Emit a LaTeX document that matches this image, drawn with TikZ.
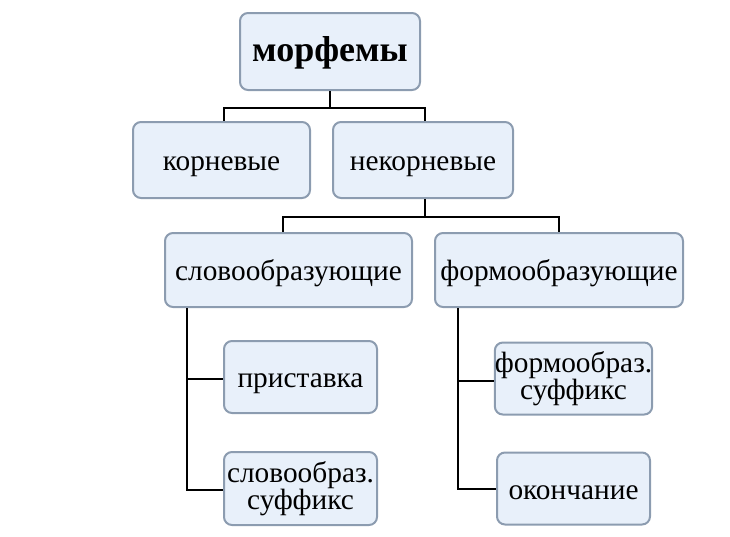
\documentclass[tikz,border=0pt]{standalone}
\usepackage{fontspec}
\setmainfont{Liberation Serif}
\usepackage{xcolor}
\definecolor{colorBoxFill}{HTML}{E8F0FA}
\definecolor{colorBoxBorder}{HTML}{8C9CB0}
\usepackage{tikz}
\usetikzlibrary{positioning}
\tikzset{morpheme/.style={draw=colorBoxBorder, fill=colorBoxFill, line width=1.5pt, rounded corners=6pt, align=center, inner sep=0pt, font=\fontsize{22}{20}\selectfont},
  oneline/.style={text height=16pt, text depth=0pt}}

\begin{document}
\begin{tikzpicture}[x=0.75pt, y=-0.75pt, line width=1.5pt]
\useasboundingbox (0,0) rectangle (730,536);
\node[morpheme, minimum width=135pt, minimum height=57.75pt, text height=15pt, text depth=0pt, font=\bfseries\fontsize{27}{27}\selectfont] (morph) at (330,51.5) {морфемы};
\node[morpheme, oneline, minimum width=132.75pt, minimum height=57pt] (kor) at (221.5,160) {корневые};
\node[morpheme, oneline, minimum width=135pt, minimum height=57pt] (nekor) at (423,160) {некорневые};
\node[morpheme, oneline, minimum width=185.25pt, minimum height=55.5pt] (slovo) at (288.5,270) {словообразующие};
\node[morpheme, oneline, minimum width=186pt, minimum height=55.5pt] (formo) at (559,270) {формообразующие};
\node[morpheme, oneline, minimum width=114.75pt, minimum height=54pt] (prist) at (300.5,377) {приставка};
\node[morpheme, minimum width=114.75pt, minimum height=54.75pt] (slsuf) at (300.5,488.5) {словообраз.\\суффикс};
\node[morpheme, minimum width=114.75pt, minimum height=54pt] (fosuf) at (573.5,378.5) {формообраз.\\суффикс};
\node[morpheme, oneline, minimum width=114.75pt, minimum height=54pt] (okon) at (573.5,488.5) {окончание};
\draw (morph.south) -- ++(0,17) -| ([xshift=2pt]kor.north);
\draw (morph.south) -- ++(0,17) -| ([xshift=1.5pt]nekor.north);
\draw ([xshift=1.5pt]nekor.south) -- ++(0,18) -| ([xshift=-4pt]slovo.north);
\draw ([xshift=1.5pt]nekor.south) -- ++(0,18) -| (formo.north);
\draw ([xshift=17pt]slovo.south west) |- ([yshift=-1.5pt]prist.west);
\draw ([xshift=17pt]slovo.south west) |- ([yshift=-1pt]slsuf.west);
\draw ([xshift=18pt]formo.south west) |- ([yshift=-1.5pt]fosuf.west);
\draw ([xshift=18pt]formo.south west) |- (okon.west);
\end{tikzpicture}
\end{document}
